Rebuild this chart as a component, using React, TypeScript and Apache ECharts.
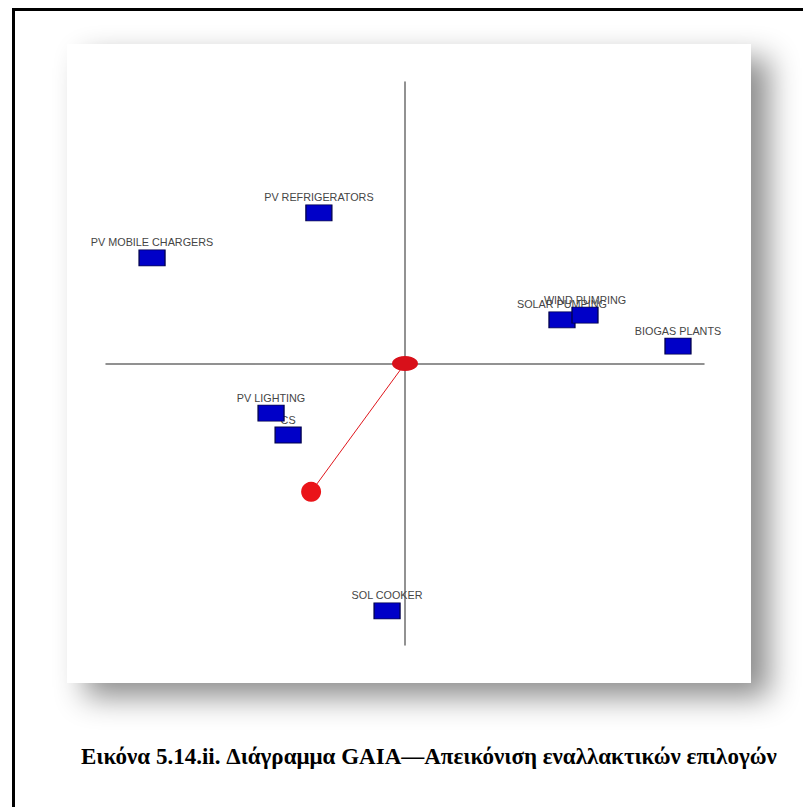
import React, { useEffect, useRef } from "react";
import * as echarts from "echarts";

const categories = [
  "PV MOBILE CHARGERS",
  "PV REFRIGERATORS",
  "SOLAR PUMPING",
  "WIND PUMPING",
  "BIOGAS PLANTS",
  "PV LIGHTING",
  "CS",
  "SOL COOKER",
];
const xValues = [-0.846, -0.288, 0.525, 0.602, 0.913, -0.448, -0.391, -0.06];
const yValues = [0.375, 0.535, 0.155, 0.172, 0.062, -0.176, -0.254, -0.879];
const decisionAxis = [-0.314, -0.456];
const origin = [0, 0];
const caption = "Εικόνα 5.14.ii. Διάγραμμα GAIA—Απεικόνιση εναλλακτικών επιλογών";

export default function App() {
  const ref = useRef<HTMLDivElement>(null);
  useEffect(() => {
    if (!ref.current) return;
    const chart = echarts.init(ref.current, null, { renderer: "svg" });
    const points = categories.map((c, i) => ({ name: c, value: [xValues[i], yValues[i]] }));
    chart.setOption({
      animation: false,
      backgroundColor: "#ffffff",
      title: {
        text: caption,
        left: 76,
        top: 740,
        textStyle: {
          fontFamily: "Liberation Serif, Times New Roman, serif",
          fontWeight: "bold",
          fontSize: 23,
          color: "#000",
        },
      },
      graphic: [
        {
          type: "rect",
          z: -20,
          silent: true,
          shape: { x: 67, y: 44, width: 684, height: 639 },
          style: {
            fill: "#ffffff",
            shadowBlur: 30,
            shadowColor: "rgba(0,0,0,0.45)",
            shadowOffsetX: 18,
            shadowOffsetY: 14,
          },
        },
        {
          type: "rect",
          z: -19,
          silent: true,
          shape: { x: 13.5, y: 9.5, width: 830, height: 830 },
          style: { fill: "none", stroke: "#000", lineWidth: 3 },
        },
      ],
      grid: { left: 106, top: 82, width: 598, height: 563, containLabel: false },
      xAxis: {
        type: "value",
        min: -1,
        max: 1,
        axisLine: { show: true, onZero: true, lineStyle: { color: "#6e6e6e", width: 1.5 } },
        axisTick: { show: false },
        axisLabel: { show: false },
        splitLine: { show: false },
      },
      yAxis: {
        type: "value",
        min: -1,
        max: 1,
        axisLine: { show: true, onZero: true, lineStyle: { color: "#6e6e6e", width: 1.5 } },
        axisTick: { show: false },
        axisLabel: { show: false },
        splitLine: { show: false },
      },
      series: [
        {
          type: "scatter",
          name: "labels",
          z: 2,
          silent: true,
          symbol: "rect",
          symbolSize: [26, 16],
          itemStyle: { color: "rgba(0,0,0,0)", opacity: 1 },
          label: {
            show: true,
            position: "top",
            distance: 2,
            formatter: "{b}",
            fontFamily: "Liberation Sans, Arial, sans-serif",
            fontSize: 10.8,
            color: "#454545",
          },
          data: points,
        },
        {
          type: "scatter",
          name: "alternatives",
          z: 3,
          symbol: "rect",
          symbolSize: [26, 16],
          itemStyle: { color: "#0000c8", borderColor: "#00004a", borderWidth: 1, opacity: 1 },
          data: points,
        },
        {
          type: "line",
          name: "decision axis",
          z: 4,
          symbol: "none",
          lineStyle: { color: "#e0161c", width: 1, opacity: 1 },
          data: [origin, decisionAxis],
        },
        {
          type: "scatter",
          name: "pi",
          z: 5,
          symbol: "circle",
          symbolSize: 20,
          itemStyle: { color: "#ea1419", opacity: 1 },
          data: [decisionAxis],
        },
        {
          type: "scatter",
          name: "origin",
          z: 5,
          symbol: "circle",
          symbolSize: [26, 15],
          itemStyle: { color: "#d8101a", opacity: 1 },
          data: [origin],
        },
      ],
    });
    return () => chart.dispose();
  }, []);
  return (
    <div
      ref={ref}
      style={{ position: "absolute", left: 0, top: 0, width: 803, height: 807 }}
    />
  );
}
